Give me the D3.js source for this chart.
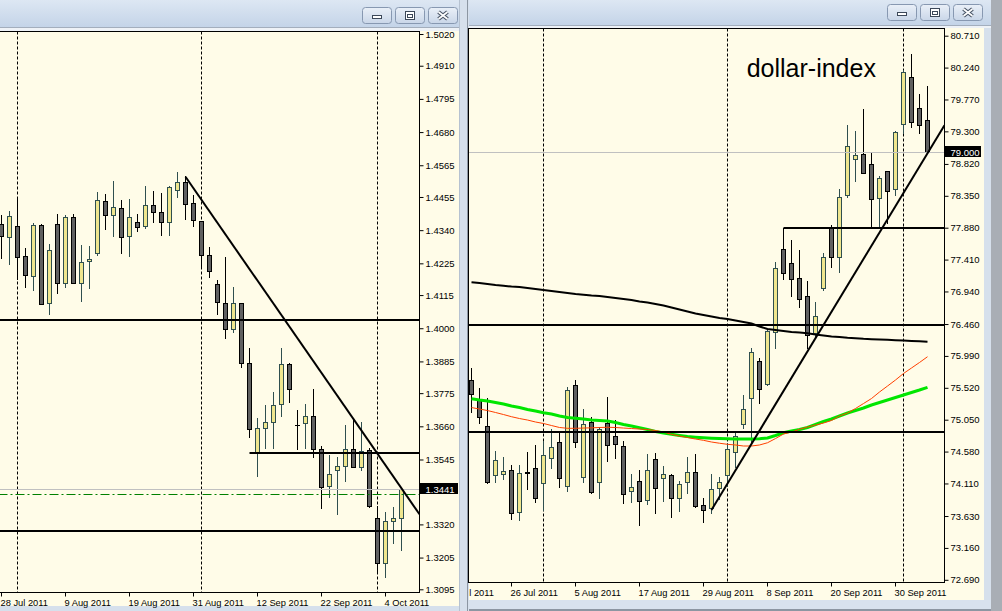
<!DOCTYPE html>
<html><head><meta charset="utf-8">
<script src="https://cdn.jsdelivr.net/npm/d3@7"></script>
<style>html,body{margin:0;padding:0;background:#d6e0ec;overflow:hidden}</style>
</head><body><svg id="c" width="1002" height="611"></svg>
<script>
// ---------------- DATA ----------------
// EUR/USD daily candles (left window)
const eurDates = ["28 Jul 2011","29 Jul 2011","1 Aug 2011","2 Aug 2011","3 Aug 2011","4 Aug 2011","5 Aug 2011","8 Aug 2011","9 Aug 2011","10 Aug 2011","11 Aug 2011","12 Aug 2011","15 Aug 2011","16 Aug 2011","17 Aug 2011","18 Aug 2011","19 Aug 2011","22 Aug 2011","23 Aug 2011","24 Aug 2011","25 Aug 2011","26 Aug 2011","29 Aug 2011","30 Aug 2011","31 Aug 2011","1 Sep 2011","2 Sep 2011","5 Sep 2011","6 Sep 2011","7 Sep 2011","8 Sep 2011","9 Sep 2011","12 Sep 2011","13 Sep 2011","14 Sep 2011","15 Sep 2011","16 Sep 2011","19 Sep 2011","20 Sep 2011","21 Sep 2011","22 Sep 2011","23 Sep 2011","26 Sep 2011","27 Sep 2011","28 Sep 2011","29 Sep 2011","30 Sep 2011","3 Oct 2011","4 Oct 2011","5 Oct 2011","6 Oct 2011"];
const eurOpen  = [1.4360,1.4317,1.4353,1.4249,1.4180,1.4357,1.4086,1.4360,1.4156,1.4385,1.4156,1.4232,1.4260,1.4440,1.4392,1.4416,1.4319,1.4367,1.4353,1.4426,1.4402,1.4367,1.4478,1.4506,1.4433,1.4371,1.4253,1.4152,1.4086,1.3996,1.4086,1.3878,1.3569,1.3653,1.3674,1.3736,1.3875,1.3666,1.3670,1.3695,1.3580,1.3452,1.3507,1.3521,1.3580,1.3518,1.3578,1.3341,1.3185,1.3331,1.3341];
const eurHigh  = [1.4393,1.4406,1.4447,1.4277,1.4365,1.4360,1.4292,1.4396,1.4392,1.4395,1.4289,1.4285,1.4471,1.4465,1.4510,1.4445,1.4448,1.4395,1.4493,1.4476,1.4469,1.4493,1.4541,1.4527,1.4462,1.4371,1.4281,1.4166,1.4246,1.4142,1.4086,1.3933,1.3688,1.3734,1.3779,1.3933,1.3878,1.3717,1.3737,1.3788,1.3592,1.3559,1.3555,1.3664,1.3682,1.3674,1.3584,1.3384,1.3362,1.3379,1.3441];
const eurLow   = [1.4245,1.4222,1.4170,1.4144,1.4134,1.4083,1.4048,1.4121,1.4144,1.4156,1.4095,1.4141,1.4254,1.4345,1.4319,1.4262,1.4251,1.4338,1.4346,1.4369,1.4322,1.4322,1.4456,1.4378,1.4353,1.4211,1.4177,1.4050,1.3965,1.3986,1.3867,1.3622,1.3489,1.3584,1.3584,1.3696,1.3745,1.3580,1.3584,1.3553,1.3378,1.3414,1.3355,1.3471,1.3518,1.3509,1.3379,1.3150,1.3139,1.3254,1.3231];
const eurClose = [1.4321,1.4388,1.4246,1.4184,1.4357,1.4083,1.4270,1.4156,1.4385,1.4156,1.4229,1.4239,1.4444,1.4392,1.4419,1.4315,1.4385,1.4350,1.4426,1.4402,1.4367,1.4489,1.4506,1.4430,1.4374,1.4253,1.4197,1.4090,1.3996,1.4086,1.3878,1.3650,1.3653,1.3674,1.3733,1.3875,1.3788,1.3665,1.3695,1.3581,1.3449,1.3494,1.3522,1.3580,1.3518,1.3575,1.3383,1.3185,1.3331,1.3341,1.3441];
const eurPriceTicks = [1.5020,1.4910,1.4795,1.4680,1.4565,1.4455,1.4340,1.4225,1.4115,1.4000,1.3885,1.3775,1.3660,1.3545,1.3320,1.3205,1.3095];
const eurDateTicks = ["28 Jul 2011","9 Aug 2011","19 Aug 2011","31 Aug 2011","12 Sep 2011","22 Sep 2011","4 Oct 2011"];
const eurSeparators = ["1 Aug 2011","1 Sep 2011","3 Oct 2011"];
const eurLevelPrices = [1.4029, 1.3567, 1.3298];
const eurLevelStart  = [null, "9 Sep 2011", null];
const eurTrendDates  = ["30 Aug 2011","6 Oct 2011"];
const eurTrendPrices = [1.4525, 1.3445];
const eurAskLine = 1.3424;

// Dollar index daily candles (right window)
const dxyPreDates = ["14 Jul 2011","15 Jul 2011","18 Jul 2011"];
const dxyDates = ["19 Jul 2011","20 Jul 2011","21 Jul 2011","22 Jul 2011","25 Jul 2011","26 Jul 2011","27 Jul 2011","28 Jul 2011","29 Jul 2011","1 Aug 2011","2 Aug 2011","3 Aug 2011","4 Aug 2011","5 Aug 2011","8 Aug 2011","9 Aug 2011","10 Aug 2011","11 Aug 2011","12 Aug 2011","15 Aug 2011","16 Aug 2011","17 Aug 2011","18 Aug 2011","19 Aug 2011","22 Aug 2011","23 Aug 2011","24 Aug 2011","25 Aug 2011","26 Aug 2011","29 Aug 2011","30 Aug 2011","31 Aug 2011","1 Sep 2011","2 Sep 2011","5 Sep 2011","6 Sep 2011","7 Sep 2011","8 Sep 2011","9 Sep 2011","12 Sep 2011","13 Sep 2011","14 Sep 2011","15 Sep 2011","16 Sep 2011","19 Sep 2011","20 Sep 2011","21 Sep 2011","22 Sep 2011","23 Sep 2011","26 Sep 2011","27 Sep 2011","28 Sep 2011","29 Sep 2011","30 Sep 2011","3 Oct 2011","4 Oct 2011","5 Oct 2011","6 Oct 2011"];
const dxyOpen  = [75.635,75.350,74.952,74.230,74.245,74.304,73.685,74.279,74.333,74.112,74.481,74.716,74.068,75.561,74.200,75.011,74.127,74.996,74.805,74.657,73.994,74.141,73.866,74.466,74.186,74.230,73.891,74.127,74.274,73.788,73.743,74.038,74.234,74.578,74.982,75.365,75.919,75.571,76.338,77.561,77.355,77.138,76.873,76.323,76.987,77.871,77.443,78.362,78.888,78.962,78.814,78.313,78.720,78.446,79.408,80.106,79.640,79.467];
const dxyHigh  = [75.816,75.521,75.365,74.588,74.500,74.382,74.382,74.573,74.672,74.736,74.912,74.864,75.536,75.635,75.207,75.085,74.946,75.380,75.045,74.736,74.245,74.308,74.540,74.554,74.371,74.245,74.141,74.500,74.540,73.900,74.249,74.200,74.706,74.858,75.414,76.106,75.955,76.372,77.370,77.875,77.699,77.551,77.094,76.785,77.502,77.920,78.446,79.394,79.305,79.625,78.977,78.642,78.720,79.305,80.204,80.436,79.851,79.969];
const dxyLow   = [75.167,75.005,74.121,74.136,74.171,73.590,73.575,74.032,73.841,73.718,74.333,74.062,74.003,74.652,74.136,73.965,73.891,74.445,74.481,73.826,73.832,73.502,73.802,73.679,73.856,73.620,73.708,73.965,73.758,73.546,73.670,73.876,74.072,74.357,74.923,74.706,75.300,75.557,76.111,77.119,76.873,76.706,76.102,76.283,76.961,77.305,77.222,78.337,78.568,78.682,77.909,77.895,77.945,78.362,79.280,79.369,79.271,78.977];
const dxyClose = [75.424,75.085,74.136,74.451,74.289,73.670,74.259,74.270,73.891,74.525,74.643,74.186,75.487,74.716,74.982,73.979,74.908,74.672,74.687,73.950,74.053,73.847,74.304,74.038,74.245,73.891,74.097,74.274,73.773,73.714,74.024,74.127,74.613,74.809,75.203,76.043,75.502,76.362,77.281,77.208,77.119,76.824,76.294,76.574,77.443,77.452,78.337,79.089,78.951,78.691,78.298,78.608,78.425,79.286,80.179,79.434,79.389,79.000];
const dxyMaSlow  = [77.076,77.065,77.050,77.035,77.023,77.013,77.006,76.991,76.976,76.961,76.947,76.932,76.917,76.902,76.891,76.880,76.873,76.858,76.844,76.829,76.814,76.792,76.777,76.755,76.733,76.703,76.674,76.645,76.615,76.593,76.571,76.549,76.534,76.512,76.490,76.468,76.423,76.387,76.372,76.357,76.342,76.335,76.323,76.305,76.291,76.276,76.269,76.258,76.251,76.242,76.236,76.232,76.227,76.221,76.217,76.210,76.205,76.199];
const dxyMaGreen = [75.358,75.340,75.325,75.303,75.281,75.252,75.229,75.200,75.178,75.153,75.134,75.104,75.082,75.070,75.060,75.045,75.038,75.030,75.008,74.979,74.957,74.932,74.905,74.876,74.853,74.834,74.817,74.802,74.792,74.784,74.777,74.772,74.769,74.765,74.765,74.765,74.768,74.780,74.817,74.858,74.883,74.905,74.935,74.979,75.023,75.060,75.104,75.148,75.185,75.222,75.266,75.303,75.340,75.377,75.414,75.450,75.487,75.527];
const dxyMaRed   = [75.229,75.207,75.185,75.156,75.126,75.094,75.067,75.045,75.016,74.994,74.964,74.935,74.923,74.923,74.927,74.930,74.935,74.938,74.935,74.927,74.920,74.912,74.905,74.890,74.868,74.834,74.809,74.787,74.765,74.746,74.721,74.703,74.687,74.677,74.662,74.662,74.677,74.710,74.772,74.839,74.868,74.908,74.942,74.971,75.001,75.038,75.104,75.148,75.215,75.288,75.362,75.458,75.546,75.635,75.731,75.812,75.893,75.978];
const dxyPriceTicks = [80.710,80.240,79.770,79.300,78.820,78.350,77.880,77.410,76.940,76.460,75.990,75.520,75.050,74.580,74.110,73.630,73.160,72.690];
const dxyDateTicks = ["14 Jul 2011","26 Jul 2011","5 Aug 2011","17 Aug 2011","29 Aug 2011","8 Sep 2011","20 Sep 2011","30 Sep 2011"];
const dxySeparators = ["1 Aug 2011","1 Sep 2011","3 Oct 2011"];
const dxyLevelPrices = [77.87, 76.441, 74.868];
const dxyLevelStart  = ["12 Sep 2011", null, null];
const dxyTrendDates  = ["30 Aug 2011","6 Oct 2011"];
const dxyTrendPrices = [73.72, 78.977];
const dxyTitle = "dollar-index";

// ---------------- DRAWING ----------------
const FONT = "'Liberation Sans', Arial, sans-serif";
const svg = d3.select("#c");
const defs = svg.append("defs");
const tg = defs.append("linearGradient").attr("id","titleGrad").attr("x1",0).attr("y1",0).attr("x2",0).attr("y2",1);
tg.append("stop").attr("offset","0%").attr("stop-color","#dde7f3");
tg.append("stop").attr("offset","100%").attr("stop-color","#c4d4e8");
const bg = defs.append("linearGradient").attr("id","btnGrad").attr("x1",0).attr("y1",0).attr("x2",0).attr("y2",1);
bg.append("stop").attr("offset","0%").attr("stop-color","#eaf0f8");
bg.append("stop").attr("offset","100%").attr("stop-color","#c9d6e8");

const BG = "#fffce8";
svg.append("rect").attr("width",1002).attr("height",611).attr("fill","#d6e0ec");

function windowChrome(wx0, wx1, titleH, chartTop, chartRight, chartBottom, btnY){
  svg.append("rect").attr("x",wx0).attr("y",0).attr("width",wx1-wx0).attr("height",titleH).attr("fill","url(#titleGrad)");
  svg.append("line").attr("x1",wx0).attr("x2",wx1).attr("y1",titleH+0.5).attr("y2",titleH+0.5).attr("stroke","#a3aebd");
  svg.append("rect").attr("x",wx0).attr("y",titleH+1).attr("width",wx1-wx0).attr("height",chartTop-titleH-1).attr("fill","#eef2f7");
  svg.append("rect").attr("x",wx0).attr("y",chartTop).attr("width",chartRight-wx0).attr("height",chartBottom-chartTop).attr("fill",BG);
  const bw = 30, gap = 3;
  const bx0 = chartRight - 1 - 3*bw - 2*gap;
  ["min","max","close"].forEach((t,i)=>{
    const bx = bx0 + i*(bw+gap);
    svg.append("rect").attr("x",bx+0.5).attr("y",btnY+0.5).attr("width",bw-1).attr("height",16).attr("rx",3)
      .attr("fill","url(#btnGrad)").attr("stroke","#8798b1");
    if(t==="min"){
      svg.append("rect").attr("x",bx+10.5).attr("y",btnY+8.5).attr("width",9).attr("height",3).attr("fill","#fff").attr("stroke","#3c4859");
    } else if(t==="max"){
      svg.append("rect").attr("x",bx+10.5).attr("y",btnY+4.5).attr("width",9).attr("height",8).attr("fill","#fff").attr("stroke","#3c4859");
      svg.append("rect").attr("x",bx+12.5).attr("y",btnY+7.5).attr("width",5).attr("height",3).attr("fill","none").attr("stroke","#3c4859");
    } else {
      const p = `M${bx+10.5},${btnY+5} L${bx+19.5},${btnY+12} M${bx+19.5},${btnY+5} L${bx+10.5},${btnY+12}`;
      svg.append("path").attr("d",p).attr("stroke","#4a5668").attr("stroke-width",4).attr("fill","none");
      svg.append("path").attr("d",p).attr("stroke","#ffffff").attr("stroke-width",1.6).attr("fill","none");
    }
  });
}

windowChrome(0, 459, 27, 31, 459, 606, 7);
svg.append("line").attr("x1",459.5).attr("x2",459.5).attr("y1",0).attr("y2",611).attr("stroke","#b6c2d1");
windowChrome(469, 991, 25, 28, 984, 600, 4);
svg.append("rect").attr("x",991).attr("y",0).attr("width",11).attr("height",611).attr("fill","#a9aeb5");
svg.append("rect").attr("x",469).attr("y",600).attr("width",522).attr("height",9).attr("fill","#d8e2ee");
svg.append("rect").attr("x",469).attr("y",609).attr("width",522).attr("height",2).attr("fill","#8c96a2");
svg.append("line").attr("x1",467.5).attr("x2",467.5).attr("y1",0).attr("y2",611).attr("stroke","#8c96a2");

function drawPanel(cfg){
  const p = cfg.plot;
  const id = cfg.id;
  defs.append("clipPath").attr("id","clip"+id).append("rect")
    .attr("x",p.x0+0.5).attr("y",p.y0+0.5).attr("width",p.x1-p.x0-1).attr("height",p.y1-p.y0-1);
  defs.append("clipPath").attr("id","clipAx"+id).append("rect")
    .attr("x",cfg.win[0]).attr("y",0).attr("width",cfg.win[1]-cfg.win[0]).attr("height",611);
  const idx = d => cfg.dates.indexOf(d) >= 0 ? cfg.dates.indexOf(d) : (cfg.pre ? cfg.pre.indexOf(d) - cfg.pre.length : -1);
  const x = d3.scaleLinear().domain([0, cfg.dates.length-1]).range(cfg.xRange);
  const y = d3.scaleLinear().domain(cfg.yDomain).range(cfg.yRange);
  const cx = i => x(i) + 0.5;
  const crisp = v => Math.round(v) + 0.5;

  const g = svg.append("g").attr("clip-path",`url(#clip${id})`);
  g.selectAll("line.sep").data(cfg.separators.map(idx)).join("line")
    .attr("x1",cx).attr("x2",cx).attr("y1",p.y0).attr("y2",p.y1)
    .attr("stroke","#000").attr("stroke-dasharray","3,2");
  const n = cfg.dates.length;
  const I = d3.range(n);
  const bull = i => cfg.C[i] >= cfg.O[i];
  g.selectAll("line.wick").data(I).join("line")
    .attr("x1",cx).attr("x2",cx)
    .attr("y1",i=>Math.round(y(cfg.H[i]))).attr("y2",i=>Math.round(y(cfg.L[i]))+1)
    .attr("stroke",i=>bull(i)?"#2f4f4f":"#000");
  g.selectAll("rect.body").data(I).join("rect")
    .attr("x",i=>cx(i)-2).attr("width",4)
    .attr("y",i=>crisp(y(Math.max(cfg.O[i],cfg.C[i]))))
    .attr("height",i=>Math.max(crisp(y(Math.min(cfg.O[i],cfg.C[i]))) - crisp(y(Math.max(cfg.O[i],cfg.C[i]))), 0.01))
    .attr("fill",i=>bull(i)?"#efe68e":"#606060")
    .attr("stroke",i=>bull(i)?"#2f4f4f":"#000");
  (cfg.mas||[]).forEach(m=>{
    g.append("path").datum(m.values)
      .attr("d", d3.line().x((v,i)=>cx(i)).y(v=>y(v)))
      .attr("fill","none").attr("stroke",m.color).attr("stroke-width",m.width);
  });
  const last = cfg.C[n-1];
  g.append("line").attr("x1",p.x0).attr("x2",p.x1).attr("y1",crisp(y(last))).attr("y2",crisp(y(last)))
    .attr("stroke","#c0c0c0");
  if(cfg.ask!=null){
    g.append("line").attr("x1",p.x0).attr("x2",p.x1).attr("y1",crisp(y(cfg.ask))).attr("y2",crisp(y(cfg.ask)))
      .attr("stroke","#008000").attr("stroke-dasharray","9,3,2,3");
  }
  cfg.levels.forEach((lv,k)=>{
    const st = cfg.levelStart[k];
    g.append("line").attr("x1", st ? cx(idx(st)) : p.x0).attr("x2",p.x1)
      .attr("y1",Math.round(y(lv))).attr("y2",Math.round(y(lv)))
      .attr("stroke","#000").attr("stroke-width",2);
  });
  const tx1 = cx(idx(cfg.trendDates[0])), ty1 = y(cfg.trendPrices[0]);
  const tx2 = cx(idx(cfg.trendDates[1])), ty2 = y(cfg.trendPrices[1]);
  const slope = (ty2-ty1)/(tx2-tx1);
  g.append("line").attr("x1",tx1).attr("y1",ty1).attr("x2",p.x1).attr("y2",ty1 + slope*(p.x1-tx1))
    .attr("stroke","#000").attr("stroke-width",2);
  if(cfg.title){
    svg.append("text").attr("x",cfg.titlePos[0]).attr("y",cfg.titlePos[1]).text(cfg.title)
      .attr("font-family",FONT).attr("font-size",25).attr("fill","#000");
  }
  svg.append("rect").attr("x",p.x0).attr("y",p.y0).attr("width",p.x1-p.x0).attr("height",p.y1-p.y0)
    .attr("fill","none").attr("stroke","#000");
  const ay = svg.append("g").attr("transform",`translate(${p.x1},0)`)
    .call(d3.axisRight(y).tickValues(cfg.priceTicks).tickFormat(d3.format(cfg.fmt)).tickSize(4).tickPadding(2));
  ay.select(".domain").remove();
  ay.attr("font-family",FONT).attr("font-size",9.5);
  ay.selectAll("text").attr("fill","#000");
  const ax = svg.append("g").attr("clip-path",`url(#clipAx${id})`).append("g").attr("transform",`translate(0,${p.y1})`)
    .call(d3.axisBottom(x).tickValues(cfg.dateTicks.map(idx)).tickFormat((d,i)=>cfg.dateTicks[i]).tickSize(4).tickPadding(3));
  ax.select(".domain").remove();
  ax.attr("font-family",FONT).attr("font-size",9.3);
  ax.selectAll("text").attr("fill","#000").attr("text-anchor","start").attr("dx",-1);
  const yl = y(last);
  svg.append("rect").attr("x",p.x1+0.5).attr("y",Math.round(yl)-6).attr("width",cfg.boxW).attr("height",11).attr("fill","#000");
  svg.append("text").attr("x",p.x1+6).attr("y",Math.round(yl)+3.5).text(d3.format(cfg.fmt)(last))
    .attr("font-family",FONT).attr("font-size",9.5).attr("fill","#fff");
}

drawPanel({
  id:"L", plot:{x0:-1.5,x1:419.5,y0:31.5,y1:592.5}, win:[0,459],
  dates:eurDates, O:eurOpen, H:eurHigh, L:eurLow, C:eurClose,
  xRange:[1, 401], yDomain:[1.3095,1.5020], yRange:[589.3,34],
  separators:eurSeparators, levels:eurLevelPrices, levelStart:eurLevelStart,
  trendDates:eurTrendDates, trendPrices:eurTrendPrices, ask:eurAskLine,
  priceTicks:eurPriceTicks, dateTicks:eurDateTicks, fmt:".4f", boxW:38
});
drawPanel({
  id:"R", plot:{x0:468.5,x1:944.5,y0:28.5,y1:582.5}, win:[469,984],
  dates:dxyDates, pre:dxyPreDates, O:dxyOpen, H:dxyHigh, L:dxyLow, C:dxyClose,
  xRange:[471, 927], yDomain:[72.690,80.710], yRange:[579.8,35.7],
  separators:dxySeparators, levels:dxyLevelPrices, levelStart:dxyLevelStart,
  trendDates:dxyTrendDates, trendPrices:dxyTrendPrices, ask:null,
  mas:[{values:dxyMaSlow,color:"#000",width:2},{values:dxyMaGreen,color:"#00e600",width:3},{values:dxyMaRed,color:"#ff4000",width:1}],
  priceTicks:dxyPriceTicks, dateTicks:dxyDateTicks, fmt:".3f", boxW:36,
  title:dxyTitle, titlePos:[746.7,76.7]
});
</script></body></html>
